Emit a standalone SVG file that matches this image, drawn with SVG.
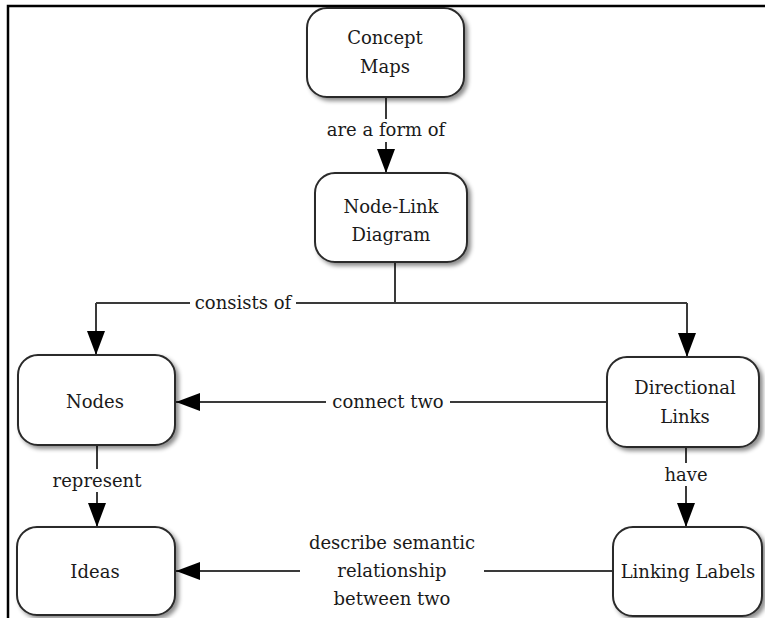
<svg xmlns="http://www.w3.org/2000/svg" width="765" height="618" viewBox="0 0 765 618">
  <defs>
    <style>
      .node rect { fill: #ffffff; stroke: #2a2a2a; stroke-width: 2; filter: url(#shadow); }
      .node text, .label text { font-family: "DejaVu Serif", "Liberation Serif", serif; font-size: 18px; fill: #1a1a1a; text-anchor: middle; }
      .link { fill: none; stroke: #3a3a3a; stroke-width: 2; }
      .arrow { marker-end: url(#head); }
      .label rect { fill: #ffffff; }
      .frame { stroke: #000000; stroke-width: 2.5; fill: none; }
    </style>
    <filter id="shadow" x="-10%" y="-10%" width="130%" height="140%">
      <feDropShadow dx="3" dy="3" stdDeviation="2" flood-color="#000000" flood-opacity="0.45"/>
    </filter>
    <marker id="head" markerUnits="userSpaceOnUse" markerWidth="24" markerHeight="18" refX="24" refY="9" orient="auto">
      <path d="M0,0 L24,9 L0,18 z" fill="#000000"/>
    </marker>
  </defs>

  <rect width="765" height="618" fill="#ffffff"/>
  <path class="frame" d="M8,618 V6 H765"/>

  <!-- connectors -->
  <g id="connectors">
    <path class="link arrow" d="M386,97 V173"/>
    <path class="link" d="M395,262 V303 M96,303 H687"/>
    <path class="link arrow" d="M96,303 V355"/>
    <path class="link arrow" d="M687,303 V357"/>
    <path class="link arrow" d="M607,402 H176"/>
    <path class="link arrow" d="M97,445 V527"/>
    <path class="link arrow" d="M686,447 V527"/>
    <path class="link arrow" d="M613,571 H176"/>

    <g class="label">
      <rect x="322" y="119" width="128" height="23"/>
      <text x="386" y="136">are a form of</text>
      <rect x="190" y="291" width="106" height="23"/>
      <text x="243" y="309">consists of</text>
      <rect x="326" y="390" width="124" height="23"/>
      <text x="388" y="408">connect two</text>
      <rect x="48" y="469" width="98" height="23"/>
      <text x="97" y="487">represent</text>
      <rect x="660" y="463" width="52" height="23"/>
      <text x="686" y="481">have</text>
      <rect x="300" y="529" width="184" height="84"/>
      <text x="392" y="549">describe semantic</text>
      <text x="392" y="577">relationship</text>
      <text x="392" y="605">between two</text>
    </g>
  </g>

  <!-- nodes -->
  <g id="concept-maps" class="node">
    <rect x="307" y="8" width="157" height="89" rx="20"/>
    <text x="385" y="44">Concept</text>
    <text x="385" y="73">Maps</text>
  </g>
  <g id="node-link-diagram" class="node">
    <rect x="315" y="173" width="152" height="89" rx="20"/>
    <text x="391" y="213">Node-Link</text>
    <text x="391" y="241">Diagram</text>
  </g>
  <g id="nodes" class="node">
    <rect x="18" y="355" width="157" height="90" rx="20"/>
    <text x="95" y="408">Nodes</text>
  </g>
  <g id="directional-links" class="node">
    <rect x="607" y="357" width="152" height="90" rx="20"/>
    <text x="685" y="394">Directional</text>
    <text x="685" y="423">Links</text>
  </g>
  <g id="ideas" class="node">
    <rect x="17" y="527" width="158" height="88" rx="20"/>
    <text x="95" y="578">Ideas</text>
  </g>
  <g id="linking-labels" class="node">
    <rect x="613" y="527" width="149" height="89" rx="20"/>
    <text x="688" y="578">Linking Labels</text>
  </g>
</svg>
